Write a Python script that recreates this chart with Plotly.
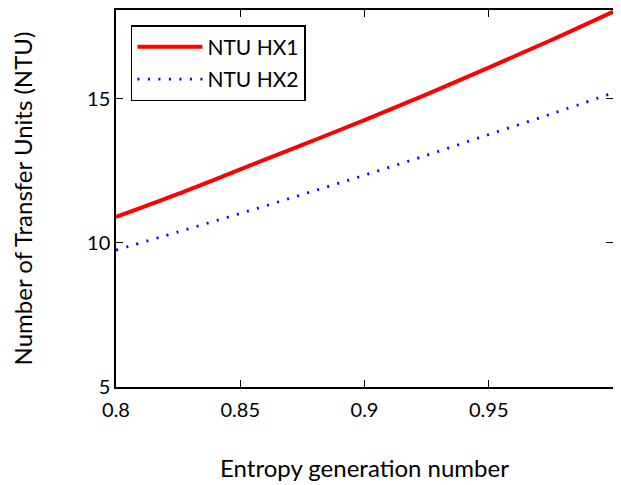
import plotly.graph_objects as go

x_vals = [0.8, 0.825, 0.85, 0.875, 0.9, 0.925, 0.95, 0.975, 1.0]
ntu_hx1 = [10.9, 11.7, 12.55, 13.4, 14.26, 15.15, 16.08, 17.03, 18.02]
ntu_hx2 = [9.75, 10.38, 11.02, 11.68, 12.35, 13.04, 13.76, 14.47, 15.2]
x_ticks = [0.8, 0.85, 0.9, 0.95]
y_ticks = [5, 10, 15]

fig = go.Figure()
fig.add_trace(go.Scatter(x=x_vals, y=ntu_hx1, mode="lines", name="NTU HX1",
                         legendgroup="a",
                         line=dict(color="#ff0000", width=4, shape="spline")))
fig.add_trace(go.Scatter(x=x_vals, y=ntu_hx2, mode="lines", name="NTU HX2",
                         legendgroup="b",
                         line=dict(color="#0000ff", width=2.8, dash="2px,8.5px", shape="spline")))

font_family = "Lato, Open Sans, sans-serif"
fig.update_layout(
    width=621, height=485,
    margin=dict(l=108, r=16, t=2, b=106),
    paper_bgcolor="white", plot_bgcolor="white",
    font=dict(family=font_family, size=20, color="black"),
    legend=dict(x=0.03, y=0.96, xanchor="left", yanchor="top",
                bordercolor="black", borderwidth=1.5, bgcolor="white",
                font=dict(size=21), itemwidth=65, tracegroupgap=2),
    xaxis=dict(range=[0.8, 1.0], tickvals=x_ticks, ticktext=[str(v) for v in x_ticks],
               ticks="inside", ticklen=7, tickcolor="black", mirror="ticks",
               showline=True, linecolor="black", linewidth=1.5, showgrid=False,
               zeroline=False, automargin=False, ticklabelstandoff=4,
               title=dict(text="Entropy generation number", standoff=40)),
    yaxis=dict(range=[5, 18.08], tickvals=y_ticks, ticks="inside", ticklen=7,
               tickcolor="black", mirror="ticks", showline=True, linecolor="black",
               linewidth=1.5, showgrid=False, zeroline=False, automargin=False,
               title=dict(text="Number of Transfer Units (NTU)", standoff=50)),
)
fig.write_html("out.html")
